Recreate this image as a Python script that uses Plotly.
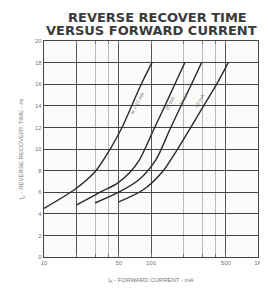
import plotly.graph_objects as go

# Data
c1_x = [10, 19, 30, 41, 53, 66, 81, 102]
c1_y = [4.5, 6.2, 7.9, 9.9, 11.9, 14.0, 16.0, 18.0]
c2_x = [20, 27, 35, 48, 63, 78, 106, 135, 167, 207]
c2_y = [4.8, 5.5, 6.1, 6.8, 7.8, 9.0, 11.8, 14.0, 16.0, 18.0]
c3_x = [30, 50, 76, 111, 150, 191, 239, 297]
c3_y = [5.0, 6.0, 7.1, 9.0, 11.8, 14.0, 16.0, 18.0]
c4_x = [50, 84, 128, 175, 229, 310, 411, 527]
c4_y = [5.1, 6.2, 7.9, 9.9, 11.8, 14.0, 16.0, 18.0]
curve_labels = ["I\u0280 = 10 mA", "20 mA", "40 mA", "60 mA"]
title_lines = ["<b>REVERSE RECOVER TIME</b>", "<b>VERSUS FORWARD CURRENT</b>"]

x_tickvals = [10, 20, 50, 100, 500, 999]
x_ticktext = ["10", "", "50", "100", "500", "1K"]
x_minor = [30, 40, 200, 300, 400]
y_tickvals = list(range(0, 21, 2))

ink = "#2a2a2a"
fig = go.Figure()
for xs, ys in [(c1_x, c1_y), (c2_x, c2_y), (c3_x, c3_y), (c4_x, c4_y)]:
    fig.add_trace(go.Scatter(x=xs, y=ys, mode="lines",
                             line=dict(color=ink, width=1.4, shape="spline", smoothing=0.8),
                             showlegend=False, hoverinfo="skip"))

# curve labels placed near the upper part of each curve (paper coords)
label_pos = [(139, 88), (172, 92), (186, 88), (211, 90)]
for (px, py), t in zip(label_pos, curve_labels):
    fig.add_annotation(x=(px - 44) / 218, y=(257 - py) / 216, xref="paper", yref="paper",
                       text=t, showarrow=False, textangle=-62,
                       font=dict(family="Liberation Sans", size=5, color="#777"))

# two-line title
fig.add_annotation(x=0.53, y=1, xref="paper", yref="paper", yshift=33, yanchor="top",
                   text=title_lines[0], showarrow=False,
                   font=dict(family="DejaVu Sans", size=13, color="#3a3a3a"))
fig.add_annotation(x=0.5, y=1, xref="paper", yref="paper", yshift=1, yanchor="bottom",
                   text=title_lines[1], showarrow=False,
                   font=dict(family="DejaVu Sans", size=13, color="#3a3a3a"))

fig.update_layout(
    width=260, height=288,
    margin=dict(l=36, r=6, t=33, b=39),
    paper_bgcolor="white", plot_bgcolor="#fbfbfa",
    xaxis=dict(type="log", range=[1, 3], tickvals=x_tickvals, ticktext=x_ticktext,
               ticklabeloverflow="allow",
               showgrid=True, gridcolor="#555", gridwidth=1, showline=True, linecolor="#444",
               linewidth=1.2, mirror="ticks", ticks="inside", ticklen=3, tickcolor="#777",
               minor=dict(tickvals=x_minor, showgrid=True, gridcolor="#bbb", gridwidth=1,
                          ticks="inside", ticklen=3, tickcolor="#777"),
               tickfont=dict(family="Liberation Sans", size=6, color="#777"),
               title=dict(text="I<sub>F</sub> - FORWARD CURRENT - mA", standoff=12,
                          font=dict(family="Liberation Sans", size=6, color="#777")),
               zeroline=False),
    yaxis=dict(range=[0, 20], tickvals=y_tickvals, showgrid=True, gridcolor="#444", gridwidth=1.4,
               showline=True, linecolor="#444", linewidth=1.2, mirror=True,
               tickfont=dict(family="Liberation Sans", size=6, color="#777"),
               title=dict(text="t<sub>rr</sub> - REVERSE RECOVERY TIME - ns", standoff=10,
                          font=dict(family="Liberation Sans", size=6, color="#777")),
               zeroline=False),
)
fig.write_html("out.html")
